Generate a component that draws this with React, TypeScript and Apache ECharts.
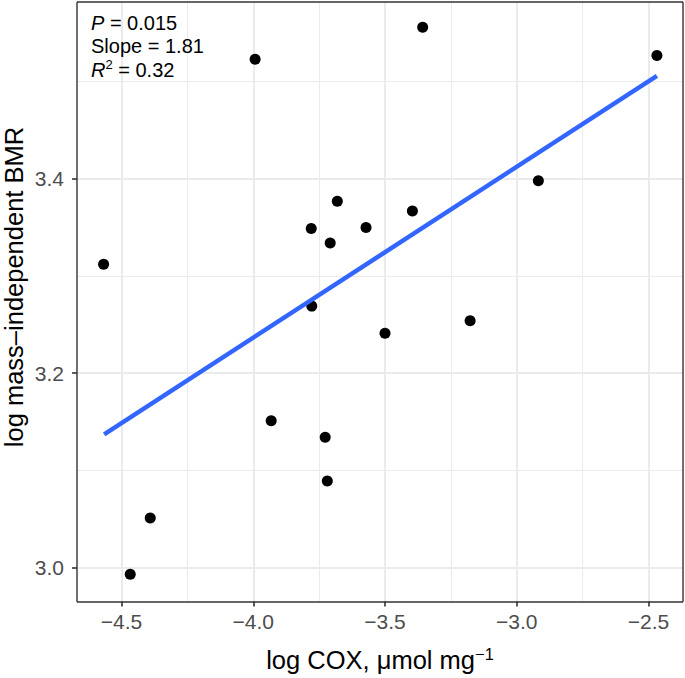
import React, { useEffect, useRef } from "react";
import * as echarts from "echarts";

const cox: number[] = [-4.568, -4.391, -4.467, -3.993, -3.357, -3.681, -3.396, -3.78, -3.572, -3.708, -3.778, -3.5, -3.932, -3.727, -3.719, -2.918, -3.177, -2.468];
const bmr: number[] = [3.312, 3.051, 2.993, 3.523, 3.556, 3.377, 3.367, 3.349, 3.35, 3.334, 3.269, 3.241, 3.151, 3.134, 3.089, 3.398, 3.254, 3.527];
const fitX: number[] = [-4.566, -2.468];
const fitY: number[] = [3.137, 3.506];
const xMajor: number[] = [-4.5, -4.0, -3.5, -3.0, -2.5];
const xMinor: number[] = [-4.25, -3.75, -3.25, -2.75];
const yMajor: number[] = [3.0, 3.2, 3.4];
const yMinor: number[] = [3.1, 3.3, 3.5];
const statLines: string[] = ["P = 0.015", "Slope = 1.81", "R2 = 0.32"];
const yTitle = "log mass\u2013independent BMR";
const xTitle = "log COX, \u03bcmol mg";

const FONT = "Liberation Sans, Arial, Helvetica, sans-serif";
const G = { left: 77, right: 2, top: 2, bottom: 76 };
const W = 685;
const H = 678;

export default function App() {
  const ref = useRef<HTMLDivElement>(null);
  useEffect(() => {
    if (!ref.current) return;
    const chart = echarts.init(ref.current, null, { renderer: "svg" });
    const fmt = (v: number) => (v < 0 ? "\u2212" : "") + Math.abs(v).toFixed(1);
    const gridLine = (axis: "xAxis" | "yAxis", vals: number[], w: number) =>
      vals.map((v) => ({ [axis]: v, lineStyle: { color: "#EBEBEB", width: w, type: "solid" } }));
    const x0 = G.left;
    const x1 = W - G.right;
    const y0 = G.top;
    const y1 = H - G.bottom;
    const border = { stroke: "#333333", lineWidth: 1.4 };
    const option: any = {
      animation: false,
      backgroundColor: "#ffffff",
      grid: { ...G, show: false, containLabel: false },
      xAxis: {
        type: "value",
        min: -4.669,
        max: -2.369,
        splitLine: { show: false },
        axisLine: { show: false },
        axisTick: { show: true, customValues: xMajor, length: 5, lineStyle: { color: "#333333", width: 1.6 } },
        axisLabel: { customValues: xMajor, formatter: fmt, color: "#4D4D4D", fontSize: 21, fontFamily: FONT, margin: 9 },
        name: `${xTitle}{sup|\u22121}`,
        nameLocation: "middle",
        nameGap: 44,
        nameTextStyle: {
          color: "#000000",
          fontSize: 25.5,
          fontFamily: FONT,
          rich: { sup: { fontSize: 16.5, fontFamily: FONT, color: "#000", verticalAlign: "top", padding: [0, 0, 12, 0] } },
        },
      },
      yAxis: {
        type: "value",
        min: 2.965,
        max: 3.582,
        splitLine: { show: false },
        axisLine: { show: false },
        axisTick: { show: true, customValues: yMajor, length: 5, lineStyle: { color: "#333333", width: 1.6 } },
        axisLabel: { customValues: yMajor, formatter: fmt, color: "#4D4D4D", fontSize: 21, fontFamily: FONT, margin: 13 },
      },
      series: [
        {
          type: "line",
          data: [],
          silent: true,
          z: 0,
          markLine: {
            silent: true,
            z: 0,
            symbol: ["none", "none"],
            label: { show: false },
            animation: false,
            data: [
              ...gridLine("xAxis", xMinor, 1),
              ...gridLine("yAxis", yMinor, 1),
              ...gridLine("xAxis", xMajor, 2),
              ...gridLine("yAxis", yMajor, 2),
            ],
          },
        },
        {
          type: "scatter",
          data: cox.map((x, i) => [x, bmr[i]]),
          symbol: "circle",
          symbolSize: 11,
          itemStyle: { color: "#000000", opacity: 1 },
          z: 20,
        },
        {
          type: "line",
          data: fitX.map((x, i) => [x, fitY[i]]),
          showSymbol: false,
          symbol: "none",
          lineStyle: { color: "#3366FF", width: 4.5, cap: "butt", opacity: 1 },
          z: 30,
        },
      ],
      graphic: [
        { type: "line", z: 100, silent: true, shape: { x1: x0, y1: y0, x2: x1, y2: y0 }, style: border },
        { type: "line", z: 100, silent: true, shape: { x1: x1, y1: y0, x2: x1, y2: y1 }, style: border },
        { type: "line", z: 100, silent: true, shape: { x1: x0, y1: y1, x2: x1, y2: y1 }, style: border },
        { type: "line", z: 100, silent: true, shape: { x1: x0, y1: y0, x2: x0, y2: y1 }, style: border },
        {
          type: "text",
          x: 14,
          y: 287,
          rotation: Math.PI / 2,
          z: 100,
          style: { text: yTitle, fontSize: 25.5, fontFamily: FONT, fill: "#000", align: "center", verticalAlign: "middle" },
        },
        {
          type: "text",
          left: 91,
          top: 11,
          z: 100,
          style: {
            text: `{i|P}{n|${statLines[0].slice(1)}}\n{n|${statLines[1]}}\n{i|R}{s|2}{n|${statLines[2].slice(2)}}`,
            fontFamily: FONT,
            lineHeight: 23.5,
            rich: {
              n: { fontSize: 20, fontFamily: FONT, color: "#000", lineHeight: 23.5 },
              i: { fontSize: 20, fontFamily: FONT, fontStyle: "italic", color: "#000", lineHeight: 23.5 },
              s: { fontSize: 13, fontFamily: FONT, color: "#000", lineHeight: 23.5, verticalAlign: "top", padding: [0, 0, 5, 0] },
            },
          },
        },
      ],
    };
    chart.setOption(option);
    return () => chart.dispose();
  }, []);
  return (
    <div style={{ position: "fixed", left: 0, top: 0, width: W, height: H, overflow: "hidden" }}>
      <div ref={ref} style={{ width: W, height: H }} />
    </div>
  );
}
